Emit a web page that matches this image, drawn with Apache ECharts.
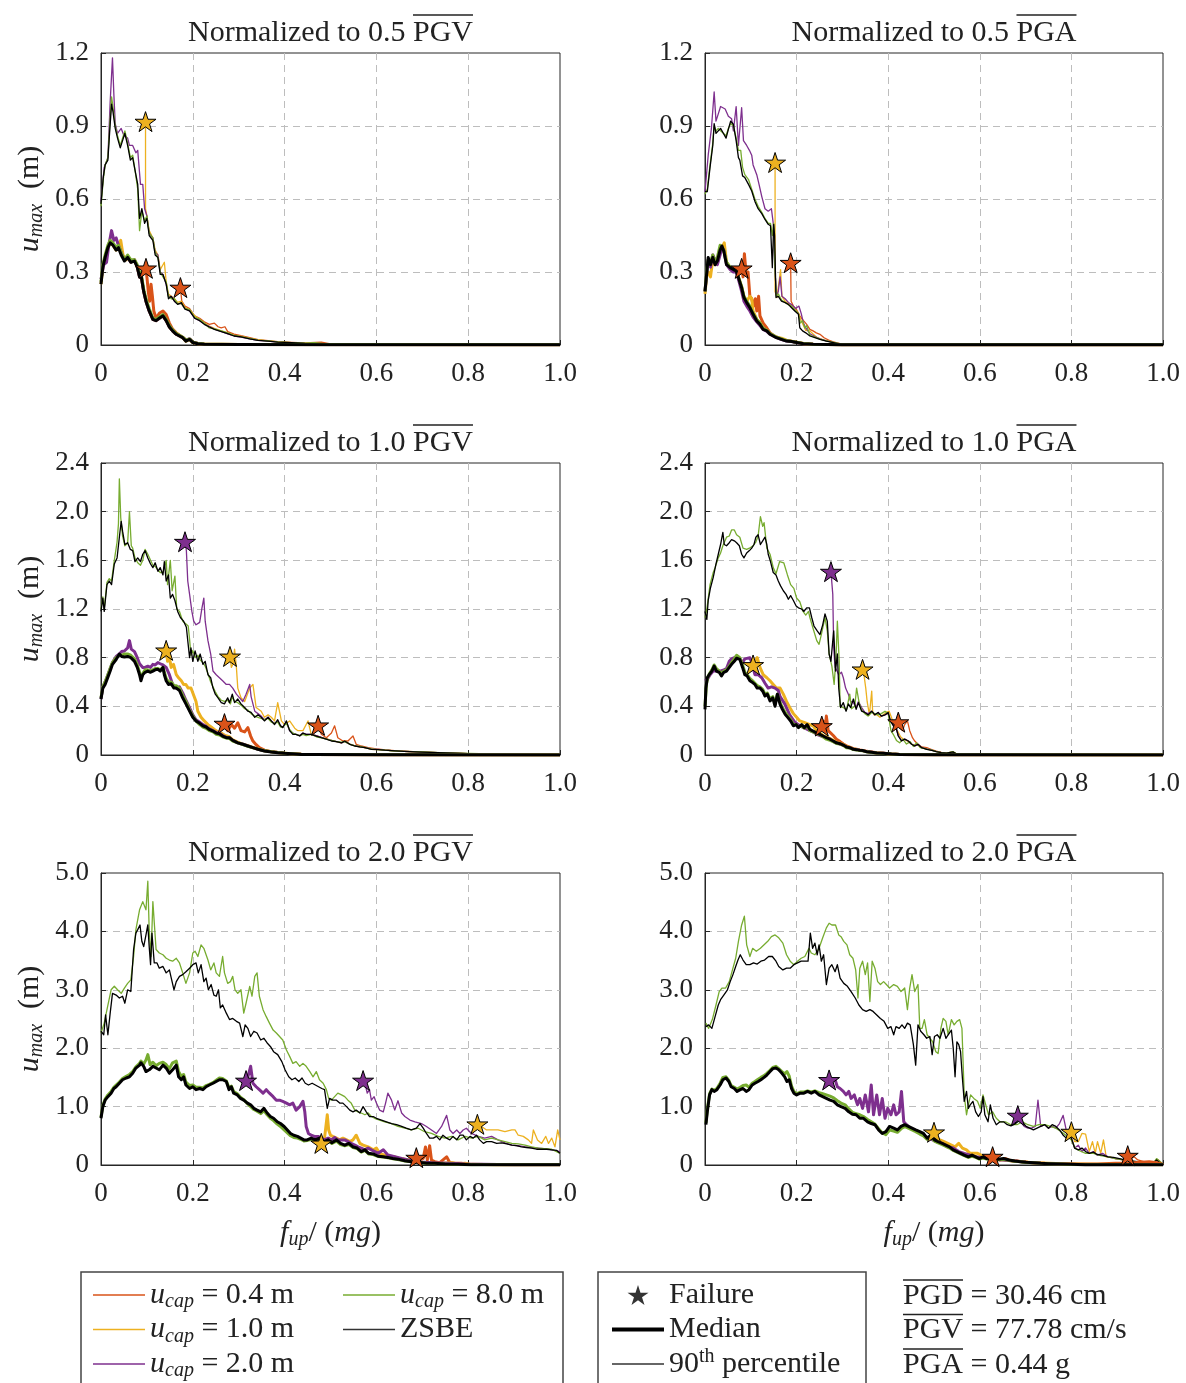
<!DOCTYPE html>
<html><head><meta charset="utf-8">
<script src="https://cdn.jsdelivr.net/npm/echarts@6/dist/echarts.min.js"></script>
<style>html,body{margin:0;padding:0;background:#fff}#c{width:1186px;height:1383px}</style>
</head><body><div id="c"></div>
<script>
// ---------------- DATA: [f_up/(mg), u_max (m)] ----------------
// Panel A: 0.5 PGV
const A_k90=[[0,0.58],[0.005,0.69],[0.009,0.74],[0.015,0.76],[0.019,0.88],[0.023,0.99],[0.026,0.96],[0.031,0.89],[0.036,0.85],[0.042,0.81],[0.047,0.84],[0.052,0.87],[0.058,0.82],[0.064,0.76],[0.069,0.77],[0.074,0.72],[0.08,0.66],[0.084,0.52],[0.089,0.56],[0.095,0.50],[0.10,0.52],[0.105,0.45],[0.113,0.43],[0.118,0.37],[0.124,0.36],[0.129,0.29],[0.135,0.29],[0.142,0.25],[0.147,0.19],[0.153,0.20],[0.16,0.18],[0.167,0.167],[0.175,0.174],[0.183,0.147],[0.193,0.14],[0.204,0.11],[0.215,0.10],[0.225,0.085],[0.236,0.074],[0.247,0.064],[0.262,0.055],[0.276,0.047],[0.29,0.037],[0.305,0.033],[0.324,0.025],[0.342,0.019],[0.364,0.016],[0.385,0.012],[0.415,0.01],[0.444,0.007],[0.49,0.005],[0.6,0.003],[0.8,0.002],[1.0,0.002]];
const A_g90=[[0,0.57],[0.005,0.68],[0.009,0.74],[0.015,0.77],[0.019,0.9],[0.023,1.02],[0.026,0.98],[0.031,0.9],[0.036,0.86],[0.042,0.82],[0.047,0.85],[0.052,0.88],[0.058,0.83],[0.064,0.77],[0.069,0.78],[0.074,0.72],[0.08,0.64],[0.084,0.47],[0.089,0.55],[0.095,0.51],[0.10,0.53],[0.105,0.46],[0.113,0.44],[0.118,0.38],[0.124,0.36],[0.129,0.30],[0.135,0.28],[0.142,0.26],[0.147,0.20],[0.153,0.19],[0.16,0.19],[0.167,0.17],[0.175,0.17],[0.183,0.15],[0.193,0.145],[0.204,0.115],[0.215,0.105],[0.225,0.09],[0.236,0.07],[0.247,0.066],[0.262,0.058],[0.276,0.05],[0.29,0.04],[0.305,0.034],[0.324,0.027],[0.342,0.02],[0.364,0.017],[0.385,0.013],[0.415,0.01],[0.444,0.008],[0.465,0.01],[0.49,0.005],[0.6,0.003],[0.8,0.002],[1.0,0.002]];
const A_p90=[[0,0.59],[0.007,0.73],[0.015,0.77],[0.02,1.0],[0.025,1.18],[0.028,1.03],[0.031,0.91],[0.036,0.87],[0.044,0.89],[0.05,0.86],[0.058,0.85],[0.062,0.82],[0.069,0.82],[0.076,0.79],[0.08,0.80],[0.086,0.66],[0.091,0.66],[0.095,0.56],[0.10,0.53],[0.105,0.46],[0.113,0.44],[0.118,0.38],[0.124,0.37],[0.129,0.30],[0.135,0.29],[0.142,0.25],[0.147,0.20],[0.153,0.20],[0.16,0.18],[0.167,0.17],[0.175,0.17],[0.183,0.15],[0.193,0.14],[0.204,0.11],[0.215,0.10],[0.225,0.087],[0.236,0.076],[0.247,0.065],[0.262,0.056],[0.276,0.046],[0.29,0.037],[0.305,0.032],[0.324,0.025],[0.342,0.019],[0.364,0.016],[0.385,0.012],[0.415,0.009],[0.444,0.007],[0.49,0.005],[0.6,0.003],[1.0,0.002]];
const A_y90=[[0.097,0.918],[0.097,0.56],[0.1,0.53],[0.105,0.47],[0.113,0.44],[0.118,0.39],[0.124,0.37],[0.129,0.31],[0.135,0.33],[0.138,0.34],[0.142,0.26],[0.147,0.21],[0.153,0.20],[0.16,0.19],[0.167,0.175],[0.175,0.18],[0.183,0.155],[0.193,0.145],[0.204,0.12],[0.215,0.105],[0.225,0.09],[0.236,0.078],[0.247,0.068],[0.262,0.058],[0.276,0.05],[0.29,0.04],[0.305,0.035],[0.324,0.027],[0.342,0.021],[0.364,0.017],[0.385,0.013],[0.415,0.01],[0.444,0.008],[0.49,0.005],[0.6,0.003],[1.0,0.002]];
const A_o90=[[0.173,0.236],[0.176,0.18],[0.183,0.16],[0.193,0.15],[0.204,0.12],[0.215,0.11],[0.225,0.095],[0.236,0.085],[0.247,0.09],[0.255,0.075],[0.262,0.07],[0.27,0.075],[0.276,0.055],[0.29,0.045],[0.305,0.038],[0.324,0.03],[0.342,0.022],[0.364,0.018],[0.385,0.014],[0.415,0.011],[0.444,0.009],[0.48,0.012],[0.5,0.005],[0.6,0.003],[1.0,0.002]];
const A_k50=[[0,0.25],[0.004,0.32],[0.009,0.36],[0.015,0.40],[0.02,0.42],[0.026,0.41],[0.033,0.39],[0.038,0.40],[0.044,0.37],[0.051,0.345],[0.058,0.36],[0.065,0.34],[0.073,0.345],[0.079,0.32],[0.084,0.28],[0.087,0.29],[0.093,0.22],[0.098,0.18],[0.105,0.14],[0.113,0.105],[0.12,0.10],[0.127,0.11],[0.135,0.12],[0.142,0.10],[0.149,0.074],[0.156,0.058],[0.164,0.044],[0.171,0.037],[0.178,0.03],[0.185,0.016],[0.193,0.023],[0.2,0.01],[0.211,0.005],[0.225,0.003],[0.3,0.002],[0.5,0.001],[1.0,0.001]];
const A_g50=[[0,0.26],[0.004,0.33],[0.009,0.37],[0.015,0.41],[0.02,0.43],[0.026,0.42],[0.033,0.40],[0.038,0.41],[0.044,0.38],[0.051,0.35],[0.058,0.37],[0.065,0.35],[0.073,0.35],[0.079,0.33],[0.084,0.29],[0.087,0.30],[0.093,0.23],[0.098,0.19],[0.105,0.15],[0.113,0.11],[0.12,0.105],[0.127,0.115],[0.135,0.125],[0.142,0.105],[0.149,0.08],[0.156,0.062],[0.164,0.047],[0.171,0.04],[0.178,0.032],[0.185,0.02],[0.193,0.025],[0.2,0.012],[0.211,0.006],[0.225,0.004],[0.3,0.002],[1.0,0.001]];
const A_p50=[[0,0.27],[0.006,0.33],[0.012,0.34],[0.017,0.41],[0.023,0.47],[0.028,0.43],[0.033,0.44],[0.038,0.41],[0.044,0.38],[0.051,0.35],[0.058,0.36],[0.065,0.34],[0.073,0.35],[0.079,0.32],[0.084,0.28],[0.087,0.29],[0.093,0.22],[0.098,0.18],[0.105,0.14],[0.113,0.105],[0.12,0.10],[0.127,0.11],[0.135,0.12],[0.142,0.10],[0.149,0.074],[0.156,0.058],[0.164,0.044],[0.171,0.037],[0.178,0.03],[0.185,0.02],[0.193,0.026],[0.2,0.012],[0.211,0.006],[0.225,0.003],[0.3,0.002],[1.0,0.001]];
const A_y50=[[0,0.25],[0.004,0.32],[0.009,0.36],[0.015,0.40],[0.02,0.42],[0.026,0.41],[0.033,0.39],[0.038,0.41],[0.043,0.43],[0.048,0.37],[0.055,0.35],[0.06,0.36],[0.065,0.34],[0.073,0.35],[0.079,0.32],[0.084,0.28],[0.087,0.29],[0.093,0.22],[0.098,0.18],[0.105,0.14],[0.113,0.105],[0.12,0.10],[0.127,0.11],[0.135,0.12],[0.142,0.10],[0.149,0.074],[0.156,0.058],[0.164,0.044],[0.171,0.037],[0.178,0.03],[0.185,0.016],[0.193,0.023],[0.2,0.01],[0.211,0.005],[0.225,0.003],[0.3,0.002],[1.0,0.001]];
const A_o50=[[0.098,0.315],[0.1,0.28],[0.103,0.22],[0.106,0.18],[0.109,0.25],[0.112,0.20],[0.115,0.14],[0.12,0.11],[0.127,0.13],[0.135,0.14],[0.142,0.125],[0.149,0.09],[0.156,0.065],[0.164,0.05],[0.171,0.04],[0.178,0.032],[0.185,0.02],[0.193,0.024],[0.2,0.012],[0.211,0.006],[0.225,0.004],[0.3,0.002],[1.0,0.001]];
// Panel B: 0.5 PGA
const B_k90=[[0,0.63],[0.005,0.63],[0.011,0.73],[0.017,0.82],[0.02,0.91],[0.024,0.87],[0.029,0.88],[0.034,0.89],[0.04,0.87],[0.046,0.85],[0.051,0.886],[0.056,0.92],[0.062,0.907],[0.068,0.84],[0.073,0.77],[0.076,0.76],[0.082,0.695],[0.087,0.688],[0.095,0.66],[0.102,0.633],[0.109,0.59],[0.116,0.56],[0.124,0.54],[0.131,0.516],[0.138,0.496],[0.143,0.49],[0.147,0.318],[0.15,0.496],[0.152,0.45],[0.155,0.195],[0.16,0.20],[0.167,0.18],[0.175,0.174],[0.182,0.167],[0.189,0.153],[0.196,0.14],[0.204,0.126],[0.207,0.071],[0.213,0.058],[0.22,0.05],[0.229,0.037],[0.24,0.03],[0.251,0.023],[0.265,0.016],[0.28,0.01],[0.295,0.004],[0.35,0.002],[1.0,0.001]];
const B_g90=[[0,0.62],[0.005,0.64],[0.011,0.74],[0.017,0.83],[0.02,0.9],[0.024,0.88],[0.029,0.89],[0.034,0.88],[0.04,0.87],[0.046,0.86],[0.051,0.89],[0.056,0.91],[0.062,0.9],[0.068,0.85],[0.073,0.8],[0.078,0.8],[0.082,0.73],[0.087,0.7],[0.095,0.68],[0.102,0.64],[0.109,0.6],[0.116,0.57],[0.124,0.545],[0.131,0.52],[0.138,0.5],[0.143,0.5],[0.147,0.45],[0.15,0.5],[0.153,0.3],[0.156,0.2],[0.16,0.21],[0.167,0.185],[0.175,0.175],[0.182,0.165],[0.189,0.16],[0.196,0.145],[0.204,0.13],[0.208,0.09],[0.213,0.1],[0.218,0.07],[0.222,0.08],[0.229,0.04],[0.24,0.032],[0.251,0.024],[0.265,0.017],[0.28,0.011],[0.295,0.005],[0.35,0.002],[1.0,0.001]];
const B_p90=[[0,0.63],[0.007,0.78],[0.014,0.89],[0.02,1.04],[0.024,0.92],[0.029,0.95],[0.034,0.98],[0.044,0.97],[0.051,0.94],[0.058,0.93],[0.062,0.88],[0.068,0.98],[0.073,0.82],[0.08,0.975],[0.084,0.84],[0.091,0.82],[0.097,0.80],[0.102,0.78],[0.105,0.74],[0.113,0.70],[0.118,0.66],[0.124,0.61],[0.131,0.56],[0.138,0.55],[0.145,0.56],[0.149,0.50],[0.153,0.30],[0.156,0.2],[0.16,0.22],[0.164,0.28],[0.168,0.2],[0.175,0.19],[0.182,0.175],[0.19,0.165],[0.198,0.15],[0.205,0.16],[0.21,0.13],[0.215,0.09],[0.22,0.07],[0.23,0.045],[0.24,0.035],[0.251,0.025],[0.265,0.017],[0.28,0.011],[0.295,0.005],[0.35,0.002],[1.0,0.001]];
const B_y90=[[0.153,0.75],[0.153,0.22],[0.157,0.195],[0.161,0.25],[0.165,0.31],[0.168,0.2],[0.175,0.18],[0.182,0.17],[0.189,0.16],[0.196,0.145],[0.204,0.13],[0.21,0.1],[0.215,0.08],[0.22,0.06],[0.229,0.058],[0.236,0.045],[0.245,0.03],[0.26,0.02],[0.28,0.012],[0.295,0.005],[0.35,0.002],[1.0,0.001]];
const B_o90=[[0.187,0.338],[0.188,0.18],[0.193,0.16],[0.2,0.145],[0.207,0.12],[0.215,0.1],[0.222,0.085],[0.229,0.064],[0.236,0.058],[0.243,0.05],[0.251,0.044],[0.26,0.03],[0.27,0.02],[0.28,0.013],[0.295,0.006],[0.35,0.002],[1.0,0.001]];
const B_k50=[[0,0.22],[0.004,0.30],[0.007,0.36],[0.012,0.33],[0.017,0.36],[0.022,0.33],[0.027,0.345],[0.033,0.39],[0.037,0.407],[0.041,0.386],[0.047,0.33],[0.055,0.318],[0.062,0.31],[0.068,0.304],[0.073,0.277],[0.08,0.235],[0.085,0.195],[0.091,0.174],[0.098,0.153],[0.105,0.126],[0.113,0.099],[0.12,0.085],[0.127,0.064],[0.135,0.058],[0.142,0.044],[0.149,0.037],[0.156,0.03],[0.167,0.023],[0.178,0.016],[0.189,0.014],[0.2,0.01],[0.215,0.005],[0.236,0.003],[0.3,0.001],[1.0,0.001]];
const B_g50=[[0,0.22],[0.004,0.31],[0.007,0.35],[0.012,0.34],[0.017,0.37],[0.022,0.34],[0.027,0.36],[0.033,0.41],[0.037,0.41],[0.041,0.39],[0.047,0.34],[0.055,0.32],[0.062,0.315],[0.068,0.31],[0.073,0.28],[0.08,0.24],[0.085,0.2],[0.091,0.18],[0.098,0.16],[0.105,0.13],[0.113,0.105],[0.12,0.09],[0.127,0.07],[0.135,0.06],[0.142,0.047],[0.149,0.04],[0.156,0.032],[0.167,0.025],[0.178,0.018],[0.189,0.015],[0.2,0.011],[0.215,0.006],[0.236,0.003],[0.3,0.001],[1.0,0.001]];
const B_p50=[[0,0.22],[0.004,0.3],[0.007,0.35],[0.012,0.32],[0.017,0.37],[0.022,0.35],[0.027,0.33],[0.033,0.37],[0.037,0.40],[0.041,0.39],[0.047,0.33],[0.055,0.31],[0.062,0.30],[0.068,0.3],[0.073,0.27],[0.08,0.22],[0.085,0.18],[0.091,0.16],[0.098,0.14],[0.105,0.115],[0.113,0.095],[0.12,0.08],[0.127,0.064],[0.135,0.056],[0.142,0.044],[0.149,0.037],[0.156,0.03],[0.167,0.022],[0.178,0.016],[0.189,0.014],[0.2,0.01],[0.215,0.005],[0.236,0.003],[0.3,0.001],[1.0,0.001]];
const B_y50=[[0,0.21],[0.004,0.29],[0.007,0.30],[0.012,0.28],[0.017,0.35],[0.022,0.33],[0.027,0.345],[0.033,0.39],[0.037,0.40],[0.042,0.42],[0.047,0.34],[0.055,0.318],[0.062,0.31],[0.068,0.304],[0.073,0.28],[0.08,0.24],[0.085,0.2],[0.091,0.18],[0.098,0.2],[0.102,0.19],[0.105,0.14],[0.113,0.105],[0.12,0.09],[0.127,0.068],[0.135,0.06],[0.142,0.046],[0.149,0.038],[0.156,0.031],[0.167,0.028],[0.178,0.02],[0.189,0.015],[0.2,0.011],[0.215,0.005],[0.236,0.003],[0.3,0.001],[1.0,0.001]];
const B_o50=[[0.08,0.315],[0.083,0.28],[0.086,0.375],[0.09,0.29],[0.094,0.30],[0.098,0.2],[0.102,0.19],[0.106,0.16],[0.11,0.19],[0.113,0.14],[0.117,0.2],[0.12,0.12],[0.127,0.09],[0.135,0.07],[0.142,0.05],[0.149,0.04],[0.156,0.033],[0.167,0.025],[0.178,0.018],[0.19,0.015],[0.2,0.011],[0.215,0.006],[0.236,0.003],[0.3,0.001],[1.0,0.001]];
// Panel C: 1.0 PGV
const C_k90=[[0,1.18],[0.004,1.29],[0.007,1.18],[0.013,1.40],[0.018,1.43],[0.023,1.40],[0.029,1.57],[0.035,1.62],[0.04,1.79],[0.044,1.92],[0.047,1.84],[0.052,1.73],[0.058,1.745],[0.064,1.69],[0.069,1.68],[0.074,1.59],[0.08,1.62],[0.086,1.59],[0.091,1.65],[0.096,1.68],[0.102,1.62],[0.108,1.57],[0.113,1.54],[0.118,1.58],[0.124,1.51],[0.129,1.54],[0.135,1.48],[0.138,1.59],[0.142,1.43],[0.147,1.48],[0.151,1.29],[0.156,1.32],[0.161,1.27],[0.167,1.18],[0.173,1.13],[0.18,1.10],[0.186,1.05],[0.189,0.94],[0.193,0.80],[0.196,0.88],[0.2,0.77],[0.205,0.855],[0.211,0.77],[0.216,0.83],[0.222,0.745],[0.227,0.77],[0.233,0.66],[0.239,0.635],[0.244,0.55],[0.249,0.50],[0.255,0.47],[0.262,0.43],[0.269,0.42],[0.276,0.47],[0.28,0.43],[0.286,0.50],[0.291,0.43],[0.298,0.46],[0.305,0.42],[0.313,0.39],[0.32,0.36],[0.327,0.35],[0.335,0.31],[0.342,0.33],[0.349,0.31],[0.356,0.28],[0.364,0.31],[0.371,0.28],[0.378,0.25],[0.385,0.29],[0.391,0.24],[0.396,0.225],[0.404,0.28],[0.411,0.20],[0.418,0.17],[0.425,0.17],[0.433,0.156],[0.44,0.18],[0.447,0.17],[0.458,0.17],[0.469,0.156],[0.48,0.142],[0.491,0.13],[0.502,0.115],[0.513,0.11],[0.524,0.10],[0.531,0.115],[0.542,0.088],[0.553,0.074],[0.564,0.066],[0.575,0.06],[0.589,0.047],[0.604,0.045],[0.618,0.04],[0.633,0.036],[0.66,0.03],[0.7,0.024],[0.75,0.017],[0.8,0.012],[0.85,0.008],[0.9,0.006],[1.0,0.004]];
const C_g90=[[0,1.2],[0.004,1.3],[0.007,1.2],[0.013,1.42],[0.018,1.45],[0.023,1.43],[0.029,1.6],[0.035,1.75],[0.038,1.9],[0.04,2.27],[0.043,1.95],[0.047,1.8],[0.052,1.72],[0.058,1.74],[0.062,2.0],[0.066,1.72],[0.069,1.7],[0.074,1.62],[0.08,1.58],[0.086,1.56],[0.091,1.6],[0.096,1.69],[0.102,1.65],[0.108,1.6],[0.113,1.56],[0.118,1.55],[0.124,1.52],[0.129,1.5],[0.135,1.5],[0.142,1.6],[0.145,1.4],[0.151,1.6],[0.155,1.35],[0.161,1.47],[0.165,1.2],[0.171,1.18],[0.178,1.1],[0.184,1.08],[0.19,1.06],[0.193,0.95],[0.196,0.82],[0.2,0.86],[0.205,0.8],[0.211,0.82],[0.216,0.78],[0.222,0.76],[0.227,0.73],[0.233,0.67],[0.239,0.6],[0.244,0.56],[0.249,0.52],[0.255,0.48],[0.262,0.45],[0.269,0.44],[0.276,0.45],[0.282,0.42],[0.286,0.48],[0.291,0.44],[0.298,0.43],[0.305,0.41],[0.313,0.38],[0.32,0.37],[0.327,0.34],[0.335,0.32],[0.342,0.31],[0.349,0.3],[0.356,0.29],[0.364,0.3],[0.371,0.27],[0.378,0.26],[0.385,0.27],[0.391,0.23],[0.396,0.23],[0.404,0.26],[0.411,0.21],[0.418,0.18],[0.425,0.17],[0.433,0.16],[0.44,0.17],[0.447,0.16],[0.458,0.17],[0.469,0.15],[0.48,0.14],[0.491,0.13],[0.502,0.12],[0.513,0.11],[0.524,0.105],[0.531,0.11],[0.542,0.09],[0.553,0.075],[0.564,0.07],[0.575,0.06],[0.589,0.05],[0.604,0.045],[0.618,0.04],[0.633,0.035],[0.66,0.03],[0.7,0.025],[0.75,0.018],[0.8,0.013],[0.85,0.01],[0.9,0.006],[1.0,0.004]];
const C_p90=[[0.183,1.753],[0.186,1.68],[0.189,1.43],[0.193,1.32],[0.198,1.18],[0.202,1.10],[0.207,1.07],[0.215,1.09],[0.22,1.21],[0.224,1.29],[0.227,1.10],[0.233,0.94],[0.239,0.83],[0.244,0.69],[0.251,0.66],[0.258,0.635],[0.265,0.61],[0.273,0.58],[0.28,0.58],[0.287,0.55],[0.295,0.50],[0.302,0.47],[0.309,0.44],[0.316,0.5],[0.324,0.58],[0.327,0.48],[0.335,0.36],[0.342,0.34],[0.349,0.32],[0.356,0.29],[0.364,0.31],[0.371,0.28],[0.378,0.26],[0.385,0.28],[0.391,0.24],[0.396,0.23],[0.404,0.27],[0.411,0.2],[0.418,0.18],[0.425,0.17],[0.433,0.16],[0.44,0.18],[0.447,0.17],[0.458,0.17],[0.469,0.16],[0.48,0.145],[0.491,0.13],[0.502,0.12],[0.513,0.11],[0.524,0.1],[0.531,0.11],[0.542,0.09],[0.553,0.075],[0.564,0.066],[0.575,0.06],[0.589,0.05],[0.604,0.046],[0.618,0.04],[0.633,0.036],[0.66,0.03],[0.7,0.023],[0.75,0.018],[0.8,0.012],[0.85,0.01],[0.9,0.006],[1.0,0.004]];
const C_y90=[[0.281,0.81],[0.284,0.72],[0.287,0.745],[0.291,0.87],[0.295,0.72],[0.298,0.55],[0.305,0.47],[0.313,0.44],[0.324,0.55],[0.331,0.58],[0.338,0.39],[0.349,0.36],[0.356,0.31],[0.364,0.33],[0.371,0.31],[0.378,0.28],[0.385,0.43],[0.393,0.28],[0.4,0.25],[0.411,0.28],[0.422,0.22],[0.429,0.2],[0.44,0.2],[0.451,0.28],[0.458,0.17],[0.469,0.16],[0.48,0.145],[0.491,0.135],[0.502,0.12],[0.513,0.11],[0.524,0.1],[0.531,0.115],[0.542,0.09],[0.553,0.075],[0.564,0.066],[0.575,0.06],[0.589,0.047],[0.604,0.045],[0.618,0.04],[0.633,0.036],[0.66,0.03],[0.7,0.024],[0.75,0.017],[0.8,0.012],[0.85,0.01],[0.9,0.006],[1.0,0.004]];
const C_o90=[[0.473,0.244],[0.48,0.17],[0.491,0.142],[0.502,0.18],[0.509,0.24],[0.516,0.142],[0.527,0.115],[0.538,0.115],[0.549,0.156],[0.556,0.088],[0.567,0.074],[0.582,0.06],[0.6,0.05],[0.62,0.042],[0.64,0.036],[0.66,0.031],[0.7,0.024],[0.75,0.018],[0.8,0.012],[0.85,0.01],[0.9,0.006],[1.0,0.004]];
const C_k50=[[0,0.46],[0.004,0.55],[0.009,0.58],[0.015,0.64],[0.02,0.69],[0.025,0.745],[0.033,0.785],[0.04,0.83],[0.045,0.81],[0.051,0.805],[0.058,0.81],[0.065,0.80],[0.073,0.77],[0.079,0.72],[0.084,0.66],[0.087,0.61],[0.091,0.66],[0.096,0.68],[0.102,0.69],[0.108,0.68],[0.113,0.69],[0.118,0.70],[0.124,0.705],[0.129,0.69],[0.135,0.72],[0.138,0.66],[0.142,0.61],[0.147,0.58],[0.153,0.585],[0.159,0.55],[0.164,0.55],[0.171,0.53],[0.178,0.47],[0.185,0.42],[0.193,0.36],[0.2,0.31],[0.207,0.28],[0.215,0.26],[0.222,0.24],[0.229,0.23],[0.236,0.21],[0.244,0.197],[0.251,0.18],[0.258,0.175],[0.265,0.156],[0.273,0.142],[0.28,0.142],[0.287,0.12],[0.298,0.10],[0.309,0.088],[0.32,0.074],[0.331,0.06],[0.342,0.047],[0.356,0.033],[0.371,0.025],[0.385,0.019],[0.4,0.014],[0.415,0.011],[0.436,0.005],[0.465,0.004],[0.6,0.002],[1.0,0.001]];
const C_g50=[[0,0.47],[0.004,0.56],[0.009,0.6],[0.015,0.66],[0.02,0.71],[0.025,0.76],[0.033,0.8],[0.04,0.82],[0.045,0.82],[0.051,0.83],[0.058,0.83],[0.065,0.82],[0.073,0.79],[0.079,0.74],[0.084,0.68],[0.087,0.63],[0.091,0.67],[0.096,0.7],[0.102,0.7],[0.108,0.69],[0.113,0.7],[0.118,0.71],[0.124,0.71],[0.129,0.7],[0.135,0.72],[0.138,0.68],[0.142,0.63],[0.147,0.6],[0.153,0.6],[0.159,0.57],[0.164,0.57],[0.171,0.55],[0.178,0.49],[0.185,0.44],[0.193,0.37],[0.2,0.32],[0.207,0.28],[0.215,0.25],[0.222,0.23],[0.229,0.22],[0.236,0.2],[0.244,0.19],[0.251,0.17],[0.258,0.165],[0.265,0.15],[0.273,0.14],[0.28,0.135],[0.287,0.115],[0.298,0.1],[0.309,0.085],[0.32,0.072],[0.331,0.06],[0.342,0.048],[0.356,0.035],[0.371,0.026],[0.385,0.02],[0.4,0.015],[0.415,0.011],[0.436,0.006],[0.465,0.004],[0.6,0.002],[1.0,0.001]];
const C_p50=[[0,0.46],[0.004,0.56],[0.009,0.6],[0.015,0.66],[0.02,0.71],[0.025,0.76],[0.033,0.81],[0.04,0.83],[0.045,0.85],[0.051,0.855],[0.058,0.88],[0.062,0.94],[0.066,0.87],[0.073,0.85],[0.079,0.8],[0.084,0.75],[0.091,0.72],[0.096,0.72],[0.102,0.73],[0.108,0.72],[0.113,0.745],[0.118,0.74],[0.124,0.76],[0.129,0.75],[0.135,0.74],[0.142,0.72],[0.149,0.66],[0.156,0.58],[0.164,0.55],[0.171,0.56],[0.178,0.51],[0.185,0.45],[0.193,0.39],[0.2,0.33],[0.207,0.29],[0.215,0.27],[0.222,0.25],[0.229,0.235],[0.236,0.215],[0.244,0.2],[0.251,0.185],[0.258,0.18],[0.265,0.16],[0.273,0.145],[0.28,0.14],[0.287,0.12],[0.298,0.1],[0.309,0.088],[0.32,0.074],[0.331,0.06],[0.342,0.047],[0.356,0.034],[0.371,0.026],[0.385,0.02],[0.4,0.014],[0.415,0.011],[0.436,0.006],[0.465,0.004],[0.6,0.002],[1.0,0.001]];
const C_y50=[[0.142,0.86],[0.145,0.77],[0.149,0.80],[0.153,0.72],[0.158,0.745],[0.164,0.66],[0.169,0.635],[0.175,0.61],[0.18,0.58],[0.185,0.58],[0.19,0.55],[0.196,0.55],[0.2,0.56],[0.207,0.44],[0.211,0.36],[0.218,0.31],[0.225,0.28],[0.233,0.25],[0.24,0.23],[0.247,0.21],[0.255,0.19],[0.262,0.18],[0.27,0.16],[0.28,0.15],[0.287,0.125],[0.298,0.105],[0.309,0.09],[0.32,0.076],[0.331,0.062],[0.342,0.05],[0.356,0.035],[0.371,0.027],[0.385,0.02],[0.4,0.015],[0.415,0.011],[0.436,0.006],[0.465,0.004],[0.6,0.002],[1.0,0.001]];
const C_o50=[[0.269,0.258],[0.276,0.2],[0.284,0.25],[0.291,0.22],[0.298,0.265],[0.305,0.2],[0.313,0.19],[0.32,0.225],[0.326,0.156],[0.331,0.115],[0.338,0.085],[0.345,0.06],[0.356,0.04],[0.371,0.028],[0.385,0.021],[0.4,0.015],[0.415,0.012],[0.436,0.006],[0.465,0.004],[0.6,0.002],[1.0,0.001]];
// Panel D: 1.0 PGA
const D_k90=[[0,1.18],[0.004,1.115],[0.007,1.27],[0.012,1.375],[0.018,1.46],[0.024,1.57],[0.029,1.65],[0.034,1.73],[0.039,1.83],[0.042,1.73],[0.047,1.72],[0.053,1.745],[0.058,1.77],[0.064,1.76],[0.069,1.745],[0.075,1.72],[0.08,1.65],[0.085,1.62],[0.091,1.66],[0.097,1.68],[0.102,1.70],[0.107,1.73],[0.111,1.79],[0.116,1.81],[0.121,1.73],[0.126,1.76],[0.131,1.79],[0.135,1.73],[0.138,1.65],[0.143,1.59],[0.149,1.50],[0.155,1.48],[0.16,1.43],[0.165,1.39],[0.171,1.35],[0.177,1.32],[0.182,1.28],[0.187,1.31],[0.193,1.27],[0.199,1.225],[0.204,1.21],[0.211,1.20],[0.216,1.18],[0.222,1.21],[0.228,1.21],[0.233,1.13],[0.238,1.06],[0.245,1.02],[0.251,0.99],[0.257,1.07],[0.262,1.16],[0.267,1.10],[0.271,0.83],[0.275,0.77],[0.279,0.94],[0.281,1.02],[0.285,0.69],[0.289,0.83],[0.292,0.55],[0.296,0.39],[0.302,0.43],[0.308,0.36],[0.313,0.42],[0.318,0.39],[0.324,0.46],[0.33,0.375],[0.335,0.43],[0.342,0.36],[0.349,0.35],[0.356,0.33],[0.364,0.36],[0.371,0.33],[0.378,0.35],[0.385,0.32],[0.393,0.33],[0.4,0.35],[0.405,0.28],[0.411,0.24],[0.417,0.225],[0.422,0.156],[0.429,0.115],[0.436,0.13],[0.444,0.115],[0.451,0.088],[0.458,0.074],[0.465,0.088],[0.473,0.06],[0.484,0.047],[0.495,0.038],[0.505,0.027],[0.516,0.019],[0.527,0.016],[0.542,0.025],[0.549,0.008],[0.571,0.005],[0.65,0.003],[0.8,0.002],[1.0,0.001]];
const D_g90=[[0,1.13],[0.004,1.2],[0.011,1.40],[0.018,1.5],[0.022,1.54],[0.029,1.62],[0.034,1.66],[0.039,1.72],[0.047,1.79],[0.053,1.8],[0.058,1.85],[0.064,1.85],[0.069,1.81],[0.076,1.79],[0.083,1.7],[0.091,1.69],[0.097,1.7],[0.105,1.72],[0.111,1.75],[0.116,1.8],[0.121,1.96],[0.126,1.88],[0.129,1.91],[0.135,1.70],[0.142,1.65],[0.149,1.54],[0.155,1.49],[0.163,1.59],[0.172,1.58],[0.18,1.48],[0.187,1.40],[0.194,1.37],[0.2,1.29],[0.207,1.26],[0.214,1.18],[0.22,1.15],[0.226,1.18],[0.229,1.13],[0.236,1.04],[0.244,0.94],[0.249,0.91],[0.254,0.99],[0.262,1.13],[0.267,1.02],[0.271,0.83],[0.277,0.73],[0.282,0.58],[0.286,0.8],[0.289,1.1],[0.293,0.77],[0.295,0.4],[0.302,0.39],[0.309,0.37],[0.316,0.5],[0.32,0.38],[0.327,0.4],[0.331,0.55],[0.337,0.42],[0.342,0.37],[0.349,0.34],[0.356,0.32],[0.364,0.35],[0.371,0.34],[0.378,0.33],[0.385,0.34],[0.393,0.36],[0.4,0.34],[0.406,0.2],[0.411,0.17],[0.418,0.12],[0.425,0.1],[0.432,0.13],[0.44,0.09],[0.448,0.11],[0.455,0.07],[0.462,0.1],[0.47,0.06],[0.484,0.048],[0.495,0.04],[0.505,0.028],[0.516,0.02],[0.527,0.016],[0.542,0.027],[0.549,0.01],[0.571,0.005],[0.65,0.003],[0.8,0.002],[1.0,0.001]];
const D_p90=[[0.275,1.507],[0.279,1.32],[0.281,0.88],[0.284,0.72],[0.287,0.7],[0.292,0.66],[0.298,0.68],[0.302,0.635],[0.307,0.55],[0.313,0.50],[0.318,0.44],[0.324,0.43],[0.33,0.39],[0.335,0.44],[0.342,0.39],[0.349,0.35],[0.356,0.34],[0.364,0.36],[0.371,0.33],[0.378,0.35],[0.385,0.32],[0.393,0.33],[0.4,0.34],[0.405,0.28],[0.411,0.25],[0.417,0.23],[0.422,0.16],[0.429,0.12],[0.436,0.13],[0.444,0.115],[0.451,0.09],[0.458,0.075],[0.465,0.088],[0.473,0.06],[0.484,0.05],[0.495,0.04],[0.505,0.028],[0.516,0.02],[0.527,0.016],[0.542,0.022],[0.549,0.009],[0.571,0.005],[0.65,0.003],[0.8,0.002],[1.0,0.001]];
const D_y90=[[0.344,0.704],[0.347,0.66],[0.351,0.55],[0.354,0.44],[0.359,0.33],[0.364,0.525],[0.366,0.36],[0.369,0.33],[0.375,0.33],[0.382,0.31],[0.389,0.33],[0.396,0.35],[0.402,0.36],[0.407,0.31],[0.414,0.23],[0.42,0.2],[0.427,0.15],[0.433,0.13],[0.44,0.12],[0.447,0.1],[0.455,0.08],[0.462,0.09],[0.47,0.065],[0.484,0.05],[0.495,0.04],[0.505,0.03],[0.516,0.02],[0.527,0.017],[0.542,0.024],[0.549,0.009],[0.571,0.005],[0.65,0.003],[1.0,0.001]];
const D_o90=[[0.422,0.27],[0.425,0.225],[0.431,0.2],[0.436,0.25],[0.442,0.28],[0.447,0.2],[0.453,0.142],[0.458,0.115],[0.465,0.088],[0.473,0.066],[0.484,0.06],[0.495,0.045],[0.505,0.032],[0.516,0.022],[0.527,0.018],[0.542,0.024],[0.549,0.01],[0.571,0.006],[0.65,0.003],[1.0,0.001]];
const D_k50=[[0,0.375],[0.002,0.55],[0.005,0.635],[0.009,0.66],[0.015,0.69],[0.02,0.73],[0.025,0.69],[0.031,0.68],[0.036,0.65],[0.041,0.68],[0.047,0.69],[0.053,0.72],[0.058,0.745],[0.064,0.77],[0.069,0.795],[0.073,0.80],[0.076,0.786],[0.082,0.72],[0.087,0.66],[0.092,0.65],[0.098,0.61],[0.104,0.595],[0.109,0.58],[0.114,0.55],[0.12,0.55],[0.126,0.525],[0.131,0.485],[0.136,0.50],[0.142,0.444],[0.148,0.47],[0.153,0.40],[0.158,0.50],[0.164,0.416],[0.169,0.375],[0.175,0.334],[0.181,0.307],[0.187,0.28],[0.193,0.24],[0.199,0.25],[0.204,0.225],[0.211,0.25],[0.217,0.225],[0.223,0.25],[0.229,0.21],[0.236,0.197],[0.244,0.18],[0.251,0.17],[0.258,0.156],[0.265,0.142],[0.273,0.13],[0.28,0.115],[0.287,0.10],[0.295,0.093],[0.302,0.082],[0.309,0.066],[0.316,0.06],[0.324,0.047],[0.331,0.044],[0.338,0.038],[0.345,0.036],[0.353,0.027],[0.364,0.022],[0.375,0.016],[0.389,0.014],[0.407,0.008],[0.425,0.005],[0.5,0.003],[1.0,0.001]];
const D_g50=[[0,0.4],[0.003,0.58],[0.006,0.64],[0.01,0.67],[0.015,0.7],[0.02,0.74],[0.025,0.71],[0.031,0.69],[0.036,0.67],[0.041,0.69],[0.047,0.7],[0.053,0.73],[0.058,0.76],[0.064,0.79],[0.069,0.82],[0.073,0.83],[0.076,0.8],[0.082,0.74],[0.087,0.68],[0.092,0.66],[0.098,0.63],[0.104,0.61],[0.109,0.59],[0.114,0.57],[0.12,0.56],[0.126,0.54],[0.131,0.5],[0.136,0.51],[0.142,0.46],[0.148,0.48],[0.153,0.42],[0.158,0.5],[0.164,0.43],[0.169,0.39],[0.175,0.35],[0.181,0.32],[0.187,0.29],[0.193,0.25],[0.199,0.25],[0.204,0.23],[0.211,0.24],[0.217,0.22],[0.223,0.24],[0.229,0.2],[0.236,0.19],[0.244,0.175],[0.251,0.165],[0.258,0.15],[0.265,0.13],[0.273,0.12],[0.28,0.11],[0.287,0.095],[0.295,0.09],[0.302,0.08],[0.309,0.06],[0.316,0.058],[0.324,0.045],[0.331,0.042],[0.338,0.037],[0.345,0.034],[0.353,0.026],[0.364,0.021],[0.375,0.016],[0.389,0.013],[0.407,0.008],[0.425,0.005],[0.5,0.003],[1.0,0.001]];
const D_p50=[[0,0.61],[0.005,0.62],[0.011,0.66],[0.018,0.69],[0.025,0.69],[0.033,0.69],[0.041,0.7],[0.047,0.71],[0.053,0.77],[0.058,0.79],[0.064,0.8],[0.069,0.81],[0.076,0.79],[0.082,0.76],[0.087,0.79],[0.091,0.79],[0.098,0.8],[0.102,0.76],[0.105,0.72],[0.109,0.66],[0.116,0.66],[0.124,0.635],[0.131,0.59],[0.138,0.55],[0.145,0.56],[0.153,0.55],[0.16,0.53],[0.164,0.48],[0.174,0.42],[0.185,0.33],[0.196,0.27],[0.207,0.24],[0.218,0.22],[0.229,0.2],[0.236,0.19],[0.244,0.17],[0.251,0.16],[0.258,0.15],[0.265,0.14],[0.273,0.13],[0.28,0.11],[0.287,0.1],[0.295,0.09],[0.302,0.08],[0.309,0.065],[0.316,0.06],[0.324,0.048],[0.331,0.046],[0.338,0.04],[0.345,0.035],[0.353,0.028],[0.364,0.022],[0.375,0.016],[0.389,0.014],[0.407,0.008],[0.425,0.005],[0.5,0.003],[1.0,0.001]];
const D_y50=[[0.105,0.74],[0.109,0.77],[0.114,0.80],[0.12,0.72],[0.127,0.66],[0.135,0.635],[0.142,0.61],[0.149,0.58],[0.156,0.55],[0.164,0.55],[0.171,0.50],[0.178,0.44],[0.185,0.39],[0.193,0.34],[0.2,0.31],[0.207,0.28],[0.215,0.27],[0.222,0.26],[0.229,0.25],[0.236,0.24],[0.244,0.2],[0.251,0.18],[0.258,0.16],[0.265,0.15],[0.273,0.135],[0.28,0.12],[0.287,0.105],[0.295,0.095],[0.302,0.085],[0.309,0.07],[0.316,0.062],[0.324,0.05],[0.331,0.046],[0.338,0.04],[0.345,0.036],[0.353,0.028],[0.364,0.022],[0.375,0.017],[0.389,0.014],[0.407,0.008],[0.425,0.005],[0.5,0.003],[1.0,0.001]];
const D_o50=[[0.255,0.238],[0.258,0.28],[0.262,0.2],[0.265,0.32],[0.269,0.2],[0.273,0.19],[0.28,0.16],[0.287,0.13],[0.295,0.11],[0.302,0.09],[0.309,0.075],[0.316,0.065],[0.324,0.052],[0.331,0.048],[0.338,0.042],[0.345,0.038],[0.353,0.03],[0.364,0.024],[0.375,0.018],[0.389,0.014],[0.407,0.008],[0.425,0.005],[0.5,0.003],[1.0,0.001]];
// Panel E: 2.0 PGV
const E_k90=[[0,2.29],[0.006,2.23],[0.01,2.57],[0.015,2.23],[0.02,2.60],[0.025,2.94],[0.033,2.91],[0.04,2.86],[0.047,2.89],[0.052,2.77],[0.058,3.0],[0.065,2.97],[0.071,3.69],[0.076,3.97],[0.08,4.03],[0.085,4.11],[0.089,3.83],[0.093,3.74],[0.098,3.94],[0.102,4.11],[0.105,3.74],[0.108,3.43],[0.111,3.97],[0.116,3.46],[0.122,3.46],[0.127,3.37],[0.135,3.40],[0.142,3.29],[0.149,3.34],[0.154,3.17],[0.159,3.0],[0.164,3.14],[0.171,3.23],[0.178,3.26],[0.185,3.31],[0.193,3.37],[0.2,3.43],[0.207,3.46],[0.212,3.29],[0.218,3.43],[0.224,3.14],[0.229,3.2],[0.234,3.0],[0.24,3.09],[0.246,2.91],[0.251,2.89],[0.256,3.0],[0.26,2.69],[0.265,2.74],[0.273,2.6],[0.28,2.49],[0.287,2.51],[0.295,2.46],[0.302,2.43],[0.309,2.2],[0.314,2.4],[0.32,2.34],[0.326,2.2],[0.333,2.29],[0.34,2.26],[0.348,2.14],[0.355,2.17],[0.362,2.09],[0.369,2.03],[0.376,1.94],[0.385,1.89],[0.394,1.77],[0.401,1.63],[0.409,1.51],[0.416,1.46],[0.423,1.49],[0.431,1.43],[0.438,1.49],[0.445,1.4],[0.452,1.37],[0.46,1.4],[0.467,1.37],[0.474,1.34],[0.481,1.31],[0.487,1.29],[0.493,0.97],[0.498,1.14],[0.505,1.11],[0.513,1.11],[0.52,1.06],[0.527,1.06],[0.535,1.0],[0.542,0.94],[0.549,0.91],[0.556,0.94],[0.564,0.89],[0.571,1.0],[0.578,0.91],[0.585,0.83],[0.593,0.83],[0.6,0.8],[0.611,0.77],[0.622,0.74],[0.633,0.71],[0.644,0.69],[0.655,0.66],[0.665,0.63],[0.676,0.6],[0.687,0.63],[0.695,0.71],[0.702,0.63],[0.709,0.54],[0.716,0.46],[0.724,0.46],[0.731,0.49],[0.738,0.43],[0.745,0.51],[0.753,0.46],[0.76,0.43],[0.767,0.49],[0.775,0.43],[0.782,0.51],[0.789,0.51],[0.796,0.43],[0.804,0.49],[0.811,0.46],[0.818,0.51],[0.825,0.43],[0.833,0.37],[0.84,0.4],[0.851,0.4],[0.862,0.37],[0.873,0.38],[0.884,0.36],[0.895,0.34],[0.905,0.33],[0.916,0.31],[0.927,0.3],[0.938,0.29],[0.949,0.27],[0.96,0.27],[0.971,0.27],[0.982,0.26],[0.993,0.25],[1.0,0.2]];
const E_g90=[[0,2.26],[0.007,2.43],[0.013,2.66],[0.022,3.0],[0.029,3.06],[0.036,3.0],[0.044,2.94],[0.051,3.03],[0.058,3.11],[0.065,3.17],[0.071,3.57],[0.076,4.03],[0.084,4.37],[0.091,4.51],[0.098,4.37],[0.102,4.86],[0.105,4.03],[0.109,3.57],[0.113,4.51],[0.12,3.69],[0.127,3.63],[0.135,3.6],[0.142,3.54],[0.149,3.51],[0.156,3.49],[0.164,3.54],[0.171,3.46],[0.178,3.29],[0.185,3.11],[0.193,3.29],[0.2,3.63],[0.205,3.66],[0.211,3.57],[0.218,3.77],[0.224,3.71],[0.227,3.74],[0.233,3.51],[0.239,3.34],[0.246,3.46],[0.251,3.29],[0.258,3.23],[0.265,3.57],[0.269,3.29],[0.276,3.11],[0.282,3.14],[0.287,3.23],[0.292,3.0],[0.298,2.94],[0.305,3.0],[0.311,2.6],[0.316,2.77],[0.324,3.06],[0.329,2.89],[0.335,3.23],[0.34,3.29],[0.345,2.89],[0.353,2.66],[0.36,2.54],[0.367,2.43],[0.375,2.31],[0.382,2.26],[0.389,2.2],[0.396,2.14],[0.404,1.97],[0.411,1.86],[0.418,1.74],[0.425,1.77],[0.433,1.69],[0.44,1.74],[0.447,1.69],[0.455,1.6],[0.462,1.51],[0.469,1.6],[0.476,1.46],[0.484,1.4],[0.491,1.29],[0.496,1.14],[0.502,1.11],[0.509,1.17],[0.516,1.23],[0.524,1.2],[0.531,1.17],[0.538,1.11],[0.545,1.06],[0.553,0.94],[0.56,0.91],[0.567,0.89],[0.575,0.86],[0.582,0.89],[0.589,0.83],[0.596,0.8],[0.607,0.77],[0.618,0.74],[0.633,0.71],[0.647,0.66],[0.662,0.63],[0.676,0.6],[0.691,0.63],[0.705,0.57],[0.72,0.54],[0.735,0.49],[0.749,0.46],[0.764,0.49],[0.778,0.43],[0.793,0.49],[0.807,0.46],[0.822,0.49],[0.836,0.43],[0.851,0.46],[0.865,0.43],[0.88,0.4],[0.895,0.37],[0.909,0.36],[0.924,0.34],[0.938,0.31],[0.953,0.29],[0.967,0.28],[0.982,0.27],[1.0,0.2]];
const E_p90=[[0.571,1.446],[0.575,1.4],[0.58,1.23],[0.585,1.29],[0.589,1.11],[0.595,1.17],[0.6,1.06],[0.607,0.94],[0.615,0.91],[0.62,1.06],[0.625,1.23],[0.629,1.26],[0.633,1.11],[0.64,0.94],[0.647,1.1],[0.655,0.89],[0.662,0.83],[0.673,0.77],[0.684,0.74],[0.698,0.71],[0.709,0.66],[0.72,0.6],[0.731,0.54],[0.742,0.66],[0.753,0.85],[0.76,0.6],[0.767,0.54],[0.775,0.6],[0.782,0.54],[0.789,0.6],[0.796,0.63],[0.807,0.54],[0.822,0.49],[0.836,0.46],[0.851,0.49],[0.865,0.43],[0.88,0.38],[0.895,0.34],[0.909,0.33],[0.924,0.31],[0.938,0.3],[0.953,0.29],[0.975,0.27],[1.0,0.23]];
const E_y90=[[0.82,0.697],[0.829,0.66],[0.84,0.6],[0.851,0.6],[0.865,0.6],[0.88,0.57],[0.895,0.6],[0.902,0.6],[0.909,0.51],[0.92,0.49],[0.931,0.43],[0.938,0.37],[0.942,0.6],[0.951,0.43],[0.96,0.37],[0.969,0.49],[0.975,0.37],[0.982,0.46],[0.989,0.31],[0.995,0.6],[1.0,0.43]];
const E_o90=null; // no non-failing 90th-percentile run for u_cap = 0.4 m
const E_k50=[[0,0.8],[0.004,1.0],[0.009,1.11],[0.015,1.17],[0.022,1.23],[0.028,1.31],[0.033,1.34],[0.04,1.4],[0.047,1.46],[0.055,1.49],[0.062,1.51],[0.069,1.57],[0.076,1.66],[0.084,1.71],[0.087,1.75],[0.093,1.69],[0.098,1.6],[0.105,1.63],[0.113,1.69],[0.12,1.66],[0.127,1.63],[0.135,1.71],[0.142,1.66],[0.149,1.57],[0.156,1.63],[0.164,1.71],[0.169,1.51],[0.175,1.46],[0.18,1.51],[0.185,1.37],[0.193,1.31],[0.2,1.34],[0.207,1.29],[0.215,1.31],[0.222,1.29],[0.229,1.34],[0.236,1.37],[0.244,1.4],[0.251,1.43],[0.258,1.46],[0.265,1.46],[0.273,1.43],[0.279,1.29],[0.284,1.34],[0.289,1.23],[0.297,1.2],[0.304,1.14],[0.311,1.11],[0.319,1.06],[0.326,1.03],[0.333,0.97],[0.34,0.94],[0.348,0.91],[0.355,0.97],[0.362,0.89],[0.369,0.83],[0.376,0.8],[0.384,0.74],[0.391,0.71],[0.399,0.66],[0.406,0.6],[0.413,0.54],[0.42,0.51],[0.428,0.49],[0.435,0.46],[0.442,0.43],[0.449,0.43],[0.458,0.46],[0.467,0.43],[0.476,0.46],[0.486,0.4],[0.495,0.43],[0.503,0.38],[0.513,0.43],[0.522,0.37],[0.531,0.34],[0.54,0.37],[0.549,0.31],[0.558,0.29],[0.567,0.23],[0.575,0.26],[0.583,0.2],[0.593,0.19],[0.604,0.15],[0.615,0.14],[0.625,0.13],[0.636,0.11],[0.647,0.1],[0.662,0.074],[0.676,0.057],[0.691,0.046],[0.709,0.029],[0.727,0.029],[0.749,0.017],[0.778,0.011],[0.807,0.006],[0.865,0.005],[1.0,0.003]];
const E_g50=[[0,0.82],[0.004,1.02],[0.009,1.13],[0.015,1.2],[0.022,1.26],[0.028,1.33],[0.033,1.37],[0.04,1.42],[0.047,1.48],[0.055,1.52],[0.062,1.55],[0.069,1.6],[0.076,1.68],[0.084,1.74],[0.087,1.78],[0.093,1.73],[0.098,1.8],[0.102,1.89],[0.107,1.72],[0.113,1.76],[0.12,1.7],[0.127,1.74],[0.135,1.76],[0.142,1.72],[0.149,1.65],[0.156,1.75],[0.164,1.78],[0.169,1.6],[0.175,1.52],[0.18,1.55],[0.185,1.42],[0.193,1.36],[0.2,1.37],[0.207,1.33],[0.215,1.33],[0.222,1.32],[0.229,1.36],[0.236,1.38],[0.244,1.41],[0.251,1.45],[0.258,1.49],[0.265,1.48],[0.273,1.44],[0.279,1.32],[0.284,1.35],[0.289,1.26],[0.297,1.22],[0.304,1.16],[0.311,1.12],[0.319,1.05],[0.326,1.0],[0.333,0.95],[0.34,0.92],[0.348,0.88],[0.355,0.93],[0.362,0.86],[0.369,0.8],[0.376,0.76],[0.384,0.7],[0.391,0.66],[0.399,0.6],[0.406,0.55],[0.413,0.5],[0.42,0.47],[0.428,0.46],[0.435,0.44],[0.442,0.41],[0.449,0.42],[0.458,0.44],[0.467,0.41],[0.476,0.44],[0.486,0.39],[0.495,0.41],[0.503,0.37],[0.513,0.41],[0.522,0.35],[0.531,0.33],[0.54,0.35],[0.549,0.3],[0.558,0.28],[0.567,0.22],[0.575,0.25],[0.583,0.19],[0.593,0.18],[0.604,0.145],[0.615,0.135],[0.625,0.125],[0.636,0.105],[0.647,0.095],[0.662,0.07],[0.676,0.055],[0.691,0.044],[0.709,0.028],[0.727,0.027],[0.749,0.016],[0.778,0.01],[0.807,0.006],[0.865,0.005],[1.0,0.003]];
const E_p50=[[0.316,1.446],[0.32,1.51],[0.326,1.69],[0.329,1.71],[0.331,1.4],[0.338,1.34],[0.345,1.29],[0.353,1.23],[0.36,1.29],[0.367,1.23],[0.375,1.17],[0.382,1.11],[0.389,1.11],[0.396,1.09],[0.404,1.06],[0.411,1.03],[0.418,1.06],[0.425,0.94],[0.433,1.0],[0.44,1.09],[0.444,0.91],[0.447,0.66],[0.452,0.54],[0.458,0.51],[0.465,0.49],[0.473,0.49],[0.48,0.46],[0.487,0.43],[0.495,0.46],[0.502,0.43],[0.509,0.47],[0.516,0.43],[0.524,0.43],[0.531,0.43],[0.538,0.4],[0.545,0.37],[0.553,0.34],[0.56,0.31],[0.567,0.29],[0.575,0.26],[0.582,0.29],[0.589,0.26],[0.604,0.2],[0.615,0.26],[0.625,0.17],[0.64,0.14],[0.655,0.11],[0.669,0.086],[0.684,0.07],[0.698,0.05],[0.72,0.04],[0.756,0.03],[0.793,0.017],[0.829,0.011],[0.902,0.006],[1.0,0.003]];
const E_y50=[[0.48,0.37],[0.484,0.31],[0.487,0.46],[0.493,0.86],[0.496,0.6],[0.5,0.51],[0.505,0.49],[0.513,0.46],[0.52,0.43],[0.527,0.46],[0.535,0.43],[0.542,0.4],[0.549,0.43],[0.556,0.51],[0.564,0.37],[0.571,0.34],[0.582,0.31],[0.593,0.26],[0.6,0.29],[0.607,0.2],[0.618,0.17],[0.629,0.14],[0.64,0.14],[0.651,0.11],[0.662,0.1],[0.673,0.086],[0.684,0.074],[0.695,0.057],[0.705,0.04],[0.72,0.029],[0.742,0.029],[0.764,0.04],[0.778,0.017],[0.793,0.029],[0.807,0.011],[0.865,0.006],[1.0,0.003]];
const E_o50=[[0.687,0.126],[0.695,0.086],[0.702,0.114],[0.707,0.31],[0.709,0.33],[0.711,0.086],[0.716,0.33],[0.72,0.086],[0.727,0.057],[0.738,0.04],[0.753,0.14],[0.76,0.04],[0.771,0.029],[0.785,0.029],[0.8,0.011],[0.865,0.006],[1.0,0.003]];
// Panel F: 2.0 PGA
const F_k90=[[0.002,2.37],[0.008,2.4],[0.015,2.34],[0.021,2.51],[0.029,2.74],[0.034,2.83],[0.041,2.91],[0.049,3.0],[0.055,3.14],[0.061,3.26],[0.067,3.4],[0.072,3.51],[0.077,3.6],[0.083,3.51],[0.09,3.43],[0.098,3.43],[0.106,3.46],[0.114,3.44],[0.122,3.49],[0.13,3.51],[0.139,3.57],[0.147,3.57],[0.155,3.49],[0.161,3.4],[0.17,3.34],[0.178,3.37],[0.186,3.37],[0.194,3.43],[0.202,3.46],[0.21,3.49],[0.218,3.49],[0.225,3.49],[0.23,3.97],[0.235,3.71],[0.24,3.8],[0.245,3.6],[0.249,3.77],[0.254,3.49],[0.259,3.6],[0.265,3.09],[0.271,3.37],[0.277,3.43],[0.284,3.31],[0.289,3.43],[0.295,3.2],[0.303,3.11],[0.311,3.06],[0.319,2.97],[0.328,2.86],[0.336,2.74],[0.344,2.66],[0.352,2.63],[0.36,2.66],[0.367,2.63],[0.375,2.57],[0.383,2.51],[0.391,2.46],[0.399,2.34],[0.406,2.37],[0.412,2.23],[0.417,2.37],[0.424,2.34],[0.43,2.4],[0.436,2.34],[0.442,2.43],[0.448,2.4],[0.455,2.06],[0.46,1.71],[0.465,2.4],[0.471,2.29],[0.478,2.23],[0.484,2.17],[0.491,2.2],[0.496,1.89],[0.501,2.2],[0.507,2.23],[0.513,2.17],[0.52,2.34],[0.526,2.17],[0.531,2.23],[0.538,2.31],[0.542,2.0],[0.546,1.51],[0.55,2.11],[0.554,2.06],[0.558,1.94],[0.562,1.49],[0.566,1.09],[0.571,1.26],[0.575,0.97],[0.579,1.03],[0.585,1.09],[0.591,0.91],[0.597,0.83],[0.603,0.91],[0.607,1.17],[0.611,0.86],[0.618,0.74],[0.623,1.03],[0.629,0.8],[0.636,0.69],[0.644,0.74],[0.652,0.74],[0.66,0.69],[0.668,0.67],[0.676,0.7],[0.683,0.74],[0.689,0.8],[0.693,0.74],[0.701,0.66],[0.709,0.63],[0.717,0.6],[0.725,0.63],[0.733,0.66],[0.742,0.69],[0.75,0.63],[0.758,0.69],[0.766,0.66],[0.774,0.6],[0.782,0.51],[0.789,0.46],[0.795,0.54],[0.8,0.46],[0.807,0.29],[0.815,0.26],[0.823,0.29],[0.831,0.23],[0.839,0.2],[0.848,0.22],[0.856,0.18],[0.868,0.17],[0.88,0.14],[0.892,0.13],[0.905,0.11],[0.917,0.086],[0.929,0.069],[0.945,0.057],[0.962,0.04],[0.978,0.029],[0.986,0.086],[0.994,0.029],[1.0,0.011]];
const F_g90=[[0.002,2.43],[0.008,2.34],[0.016,2.49],[0.024,2.74],[0.031,2.97],[0.037,3.03],[0.045,3.03],[0.053,3.14],[0.061,3.37],[0.067,3.54],[0.073,3.83],[0.08,4.11],[0.086,4.26],[0.091,3.77],[0.098,3.57],[0.104,3.71],[0.112,3.66],[0.121,3.71],[0.129,3.77],[0.137,3.83],[0.145,3.91],[0.153,3.94],[0.161,3.89],[0.17,3.8],[0.178,3.6],[0.186,3.49],[0.194,3.43],[0.202,3.49],[0.21,3.54],[0.218,3.57],[0.227,3.71],[0.232,3.63],[0.24,3.6],[0.249,3.71],[0.257,3.89],[0.265,4.06],[0.271,4.14],[0.277,4.11],[0.285,4.11],[0.292,3.94],[0.297,3.91],[0.303,3.83],[0.31,3.77],[0.316,3.6],[0.323,3.54],[0.329,3.34],[0.334,2.86],[0.338,3.37],[0.344,3.49],[0.35,3.26],[0.355,3.46],[0.36,2.8],[0.365,3.49],[0.371,3.37],[0.377,3.14],[0.383,3.09],[0.39,3.14],[0.396,3.09],[0.403,3.03],[0.412,3.09],[0.42,3.06],[0.428,2.97],[0.436,3.03],[0.442,2.66],[0.447,3.03],[0.452,3.26],[0.458,2.97],[0.465,3.09],[0.469,2.34],[0.474,2.34],[0.479,2.49],[0.485,2.23],[0.491,2.17],[0.497,2.11],[0.504,1.94],[0.509,1.91],[0.515,2.34],[0.52,2.51],[0.526,2.46],[0.531,2.23],[0.538,2.49],[0.544,2.4],[0.55,2.46],[0.556,2.49],[0.561,2.34],[0.566,1.2],[0.571,0.86],[0.575,1.03],[0.58,1.2],[0.587,1.14],[0.595,1.09],[0.601,0.97],[0.607,1.2],[0.613,1.03],[0.619,0.86],[0.628,0.91],[0.636,0.8],[0.644,0.74],[0.656,0.74],[0.668,0.69],[0.681,0.69],[0.693,0.74],[0.705,0.69],[0.717,0.66],[0.729,0.69],[0.742,0.69],[0.754,0.66],[0.766,0.63],[0.778,0.57],[0.791,0.49],[0.8,0.43],[0.808,0.29],[0.819,0.24],[0.831,0.2],[0.848,0.2],[0.864,0.16],[0.88,0.14],[0.896,0.11],[0.913,0.086],[0.929,0.069],[0.945,0.046],[0.962,0.034],[0.978,0.023],[0.986,0.11],[1.0,0.011]];
const F_p90=[[0.683,0.846],[0.689,0.74],[0.697,0.66],[0.705,0.63],[0.713,0.63],[0.721,0.66],[0.727,1.11],[0.733,0.66],[0.742,0.69],[0.75,0.63],[0.758,0.66],[0.766,0.63],[0.774,0.71],[0.782,0.85],[0.791,0.51],[0.8,0.46],[0.807,0.29],[0.815,0.34],[0.823,0.23],[0.831,0.29],[0.839,0.2],[0.848,0.23],[0.856,0.17],[0.868,0.2],[0.88,0.14],[0.896,0.11],[0.913,0.086],[0.937,0.057],[0.962,0.034],[1.0,0.011]];
const F_y90=[[0.8,0.571],[0.807,0.4],[0.815,0.4],[0.823,0.54],[0.831,0.53],[0.839,0.23],[0.846,0.4],[0.852,0.2],[0.857,0.4],[0.864,0.2],[0.87,0.43],[0.876,0.14],[0.884,0.14],[0.896,0.11],[0.913,0.086],[0.929,0.069],[0.953,0.046],[0.978,0.029],[1.0,0.011]];
const F_o90=[[0.923,0.16],[0.929,0.11],[0.937,0.14],[0.945,0.086],[0.958,0.057],[0.97,0.029],[0.982,0.057],[0.99,0.086],[1.0,0.011]];
const F_k50=[[0.002,0.69],[0.005,0.91],[0.01,1.2],[0.015,1.29],[0.02,1.26],[0.026,1.29],[0.033,1.37],[0.039,1.46],[0.046,1.49],[0.052,1.43],[0.057,1.34],[0.064,1.31],[0.07,1.26],[0.077,1.29],[0.083,1.31],[0.09,1.26],[0.096,1.29],[0.103,1.37],[0.109,1.4],[0.116,1.43],[0.122,1.46],[0.129,1.5],[0.135,1.54],[0.142,1.6],[0.148,1.65],[0.155,1.66],[0.161,1.63],[0.168,1.57],[0.174,1.51],[0.179,1.43],[0.184,1.46],[0.189,1.31],[0.194,1.23],[0.2,1.2],[0.208,1.23],[0.216,1.23],[0.224,1.26],[0.232,1.23],[0.24,1.26],[0.249,1.2],[0.257,1.17],[0.265,1.14],[0.273,1.11],[0.281,1.09],[0.289,1.03],[0.297,1.0],[0.306,0.97],[0.314,0.91],[0.322,0.87],[0.33,0.86],[0.338,0.8],[0.346,0.8],[0.355,0.74],[0.363,0.71],[0.371,0.69],[0.379,0.6],[0.387,0.54],[0.395,0.57],[0.403,0.66],[0.412,0.63],[0.42,0.6],[0.428,0.66],[0.436,0.69],[0.444,0.66],[0.452,0.63],[0.46,0.6],[0.469,0.57],[0.477,0.54],[0.485,0.46],[0.493,0.51],[0.501,0.43],[0.509,0.4],[0.518,0.37],[0.526,0.34],[0.534,0.31],[0.542,0.26],[0.55,0.23],[0.558,0.2],[0.566,0.17],[0.575,0.14],[0.583,0.17],[0.591,0.14],[0.599,0.11],[0.607,0.14],[0.615,0.11],[0.623,0.14],[0.632,0.13],[0.64,0.1],[0.652,0.11],[0.664,0.086],[0.676,0.069],[0.689,0.057],[0.701,0.046],[0.717,0.04],[0.733,0.029],[0.75,0.023],[0.774,0.017],[0.799,0.011],[0.831,0.006],[0.913,0.006],[1.0,0.006]];
const F_g50=[[0.002,0.72],[0.005,0.95],[0.01,1.22],[0.015,1.3],[0.02,1.28],[0.026,1.31],[0.033,1.4],[0.039,1.5],[0.046,1.51],[0.052,1.45],[0.057,1.36],[0.064,1.33],[0.07,1.3],[0.077,1.33],[0.083,1.36],[0.09,1.37],[0.096,1.33],[0.103,1.4],[0.109,1.43],[0.116,1.47],[0.122,1.5],[0.129,1.53],[0.135,1.57],[0.142,1.62],[0.148,1.67],[0.155,1.69],[0.161,1.65],[0.168,1.6],[0.174,1.56],[0.179,1.6],[0.184,1.52],[0.189,1.35],[0.194,1.26],[0.2,1.22],[0.208,1.25],[0.216,1.25],[0.224,1.27],[0.232,1.25],[0.24,1.27],[0.249,1.24],[0.257,1.22],[0.265,1.2],[0.273,1.18],[0.281,1.15],[0.289,1.1],[0.297,1.06],[0.306,1.03],[0.314,0.96],[0.322,0.9],[0.33,0.88],[0.338,0.86],[0.346,0.83],[0.355,0.78],[0.363,0.74],[0.371,0.7],[0.379,0.62],[0.387,0.55],[0.395,0.52],[0.403,0.6],[0.412,0.58],[0.42,0.56],[0.428,0.62],[0.436,0.66],[0.444,0.63],[0.452,0.6],[0.46,0.57],[0.469,0.53],[0.477,0.5],[0.485,0.44],[0.493,0.48],[0.501,0.41],[0.509,0.38],[0.518,0.35],[0.526,0.32],[0.534,0.29],[0.542,0.25],[0.55,0.22],[0.558,0.19],[0.566,0.16],[0.575,0.13],[0.583,0.15],[0.591,0.13],[0.599,0.1],[0.607,0.12],[0.615,0.1],[0.623,0.12],[0.632,0.11],[0.64,0.09],[0.652,0.1],[0.664,0.08],[0.676,0.065],[0.689,0.054],[0.701,0.044],[0.717,0.038],[0.733,0.028],[0.75,0.022],[0.774,0.016],[0.799,0.01],[0.831,0.006],[1.0,0.006]];
const F_p50=[[0.271,1.457],[0.277,1.43],[0.284,1.46],[0.289,1.34],[0.295,1.31],[0.302,1.26],[0.308,1.2],[0.314,1.26],[0.319,1.14],[0.326,1.2],[0.333,1.03],[0.338,1.14],[0.344,0.97],[0.35,1.2],[0.357,0.91],[0.363,1.37],[0.368,0.86],[0.375,1.2],[0.381,0.86],[0.387,1.14],[0.393,0.8],[0.399,0.97],[0.406,0.86],[0.412,1.03],[0.417,0.86],[0.424,0.91],[0.429,1.26],[0.434,0.74],[0.44,0.69],[0.448,0.63],[0.456,0.6],[0.465,0.57],[0.473,0.54],[0.481,0.49],[0.489,0.46],[0.497,0.43],[0.505,0.4],[0.518,0.37],[0.53,0.31],[0.542,0.29],[0.554,0.23],[0.566,0.2],[0.579,0.17],[0.591,0.14],[0.603,0.13],[0.615,0.11],[0.632,0.1],[0.652,0.086],[0.676,0.069],[0.701,0.046],[0.733,0.029],[0.774,0.017],[0.831,0.006],[1.0,0.006]];
const F_y50=[[0.5,0.56],[0.505,0.46],[0.513,0.43],[0.522,0.4],[0.53,0.37],[0.538,0.34],[0.546,0.31],[0.554,0.37],[0.562,0.29],[0.571,0.26],[0.579,0.2],[0.587,0.2],[0.595,0.2],[0.603,0.17],[0.611,0.14],[0.623,0.11],[0.636,0.1],[0.652,0.086],[0.668,0.074],[0.693,0.057],[0.717,0.04],[0.75,0.029],[0.799,0.017],[0.848,0.011],[1.0,0.006]];
const F_o50=[[0.628,0.143],[0.636,0.11],[0.644,0.086],[0.656,0.11],[0.668,0.074],[0.681,0.069],[0.693,0.057],[0.705,0.046],[0.717,0.04],[0.742,0.029],[0.774,0.023],[0.815,0.017],[0.856,0.017],[0.896,0.029],[0.929,0.034],[0.953,0.046],[0.97,0.057],[0.986,0.04],[1.0,0.011]];

// ---------------- LABELS / AXES ----------------
const scaleLabels=['0.5','0.5','1.0','1.0','2.0','2.0'];
const measureLabels=['PGV','PGA','PGV','PGA','PGV','PGA'];
const yMaxRow=[1.2,2.4,5.0];
const yStepRow=[0.3,0.4,1.0];
const xRange=[0,1.0], xStep=0.2;
const capLabels={u04:'0.4',u10:'1.0',u20:'2.0',u80:'8.0'};
const refLines=[['PGD',' = 30.46 cm'],['PGV',' = 77.78 cm/s'],['PGA',' = 0.44 g']];
const failKeys=[['o50','o90','y90'],['o50','o90','y90'],['o50','y50','o90','y90','p90'],['o50','y50','o90','y90','p90'],['o50','y50','p50','y90','p90'],['o50','y50','p50','o90','y90','p90']];

// ---------------- STYLE ----------------
const FONT='"Liberation Serif","DejaVu Serif",serif';
const TXT='#222222';
const BIG=30;
const COLORS={o:'#D95319',y:'#EDB120',p:'#7E2F8E',g:'#77AC30',k:'#000000'};
const GROUP={o:'u04',y:'u10',p:'u20',g:'u80',k:'ZSBE'};
const STAR='path://M0,-10L2.245,-3.09L9.511,-3.09L3.633,1.18L5.878,8.09L0,3.82L-5.878,8.09L-3.633,1.18L-9.511,-3.09L-2.245,-3.09Z';
const GL=[101,705], GW=[459,458], GT=[53,463,873], GH=292;
const RICH={
  it:{fontFamily:FONT,fontStyle:'italic',fontSize:BIG,lineHeight:34,color:TXT},
  sub:{fontFamily:FONT,fontStyle:'italic',fontSize:20,lineHeight:20,verticalAlign:'bottom',color:TXT},
  rm:{fontFamily:FONT,fontSize:BIG,lineHeight:34,color:TXT},
  sup:{fontFamily:FONT,fontSize:20,lineHeight:20,verticalAlign:'top',color:TXT}
};
const panelsData=[
  {p90:{o:A_o90,y:A_y90,p:A_p90,g:A_g90,k:A_k90},p50:{o:A_o50,y:A_y50,p:A_p50,g:A_g50,k:A_k50}},
  {p90:{o:B_o90,y:B_y90,p:B_p90,g:B_g90,k:B_k90},p50:{o:B_o50,y:B_y50,p:B_p50,g:B_g50,k:B_k50}},
  {p90:{o:C_o90,y:C_y90,p:C_p90,g:C_g90,k:C_k90},p50:{o:C_o50,y:C_y50,p:C_p50,g:C_g50,k:C_k50}},
  {p90:{o:D_o90,y:D_y90,p:D_p90,g:D_g90,k:D_k90},p50:{o:D_o50,y:D_y50,p:D_p50,g:D_g50,k:D_k50}},
  {p90:{o:E_o90,y:E_y90,p:E_p90,g:E_g90,k:E_k90},p50:{o:E_o50,y:E_y50,p:E_p50,g:E_g50,k:E_k50}},
  {p90:{o:F_o90,y:F_y90,p:F_p90,g:F_g90,k:F_k90},p50:{o:F_o50,y:F_y50,p:F_p50,g:F_g50,k:F_k50}}
];

const mctx=document.createElement('canvas').getContext('2d');
function textW(s,size){mctx.font=size+'px '+FONT;return mctx.measureText(s).width;}
const fmt=v=>v===0?'0':v.toFixed(1);

const grids=[],xAxes=[],yAxes=[],series=[],graphics=[];
panelsData.forEach((pn,i)=>{
  const r=Math.floor(i/2), c=i%2;
  grids.push({left:GL[c],top:GT[r],width:GW[c],height:GH,show:true,borderColor:'#262626',borderWidth:1,backgroundColor:'rgba(0,0,0,0)',containLabel:false,outerBoundsMode:'none'});
  xAxes.push({type:'value',gridIndex:i,min:xRange[0],max:xRange[1],interval:xStep,
    axisLine:{show:true,onZero:false,lineStyle:{color:'#262626',width:1}},
    axisTick:{show:true,inside:true,length:5,lineStyle:{color:'#262626'}},
    axisLabel:{margin:15,fontSize:27,fontFamily:FONT,color:TXT,formatter:fmt},
    splitLine:{show:true,showMinLine:false,showMaxLine:false,lineStyle:{color:'#bdbdbd',type:[7,5],width:1}},
    name:r===2?'{it|f}{sub|up}{rm|/ (}{it|mg}{rm|)}':'',nameLocation:'middle',nameGap:51,
    nameTextStyle:{fontFamily:FONT,fontSize:BIG,color:TXT,rich:RICH}});
  yAxes.push({type:'value',gridIndex:i,min:0,max:yMaxRow[r],interval:yStepRow[r],
    axisLine:{show:true,onZero:false,lineStyle:{color:'#262626',width:1}},
    axisTick:{show:true,inside:true,length:5,lineStyle:{color:'#262626'}},
    axisLabel:{margin:12,fontSize:27,fontFamily:FONT,color:TXT,formatter:fmt},
    splitLine:{show:true,showMinLine:false,showMaxLine:false,lineStyle:{color:'#bdbdbd',type:[7,5],width:1}},
    name:c===0?'{it|u}{sub|max}{rm|  (m)}':'',nameLocation:'middle',nameRotate:90,nameGap:54,
    nameTextStyle:{fontFamily:FONT,fontSize:BIG,color:TXT,rich:RICH}});
  ['p90','p50'].forEach(kind=>{
    ['o','y','p','g','k'].forEach(k=>{
      const d=pn[kind][k];
      if(!d) return;
      series.push({type:'line',name:GROUP[k],xAxisIndex:i,yAxisIndex:i,data:d,color:COLORS[k],
        symbol:'none',showSymbol:false,silent:true,animation:false,clip:true,
        lineStyle:{width:kind==='p50'?3:1.3,color:COLORS[k],join:'round'},z:2});
    });
  });
  const stars=failKeys[i].map(key=>{
    const k=key[0], kind='p'+key.slice(1);
    return {value:pn[kind][k][0],itemStyle:{color:COLORS[k]}};
  });
  series.push({type:'scatter',xAxisIndex:i,yAxisIndex:i,data:stars,symbol:STAR,symbolSize:21,symbolKeepAspect:true,
    itemStyle:{borderColor:'#000',borderWidth:1,opacity:1},silent:true,animation:false,z:5});
  // title with overline
  const cx=GL[c]+GW[c]/2;
  const pre='Normalized to '+scaleLabels[i]+' ';
  const wPre=textW(pre,BIG), wM=textW(measureLabels[i],BIG);
  const x0=cx-(wPre+wM)/2, ty=GT[r]-20;
  graphics.push({type:'text',x:x0,y:ty,silent:true,style:{text:pre+measureLabels[i],font:BIG+'px '+FONT,fill:TXT,textAlign:'left',textVerticalAlign:'middle',align:'left',verticalAlign:'middle'}});
  graphics.push({type:'line',silent:true,shape:{x1:x0+wPre,y1:ty-18,x2:x0+wPre+wM,y2:ty-18},style:{stroke:TXT,lineWidth:1.5}});
});

// dummy series for the marker/line-type legend
series.push({type:'scatter',name:'Failure',xAxisIndex:0,yAxisIndex:0,data:[],symbol:STAR,color:'#000'});
series.push({type:'line',name:'Median',xAxisIndex:0,yAxisIndex:0,data:[],symbol:'none',color:'#000',lineStyle:{width:4}});
series.push({type:'line',name:'90th',xAxisIndex:0,yAxisIndex:0,data:[],symbol:'none',color:'#333',lineStyle:{width:1.5}});

const LTHIN='path://M0,0H52V1.6H0Z', LTHICK='path://M0,0H52V4H0Z';
function legendFmt(name){
  if(capLabels[name]) return '{it|u}{sub|cap}{rm| = '+capLabels[name]+' m}';
  if(name==='90th') return '{rm|90}{sup|th}{rm| percentile}';
  return '{rm|'+name+'}';
}
const legendText={fontFamily:FONT,fontSize:BIG,color:TXT,lineHeight:34,rich:RICH};
const legends=[
  {left:93,top:1278,orient:'vertical',padding:0,itemWidth:52,itemHeight:14,itemGap:0.5,selectedMode:false,formatter:legendFmt,textStyle:legendText,
   data:['u04','u10','u20'].map((n,j)=>({name:n,icon:LTHIN,itemStyle:{color:[COLORS.o,COLORS.y,COLORS.p][j],borderWidth:0}}))},
  {left:343,top:1278,orient:'vertical',padding:0,itemWidth:52,itemHeight:14,itemGap:0.5,selectedMode:false,formatter:legendFmt,textStyle:legendText,
   data:[{name:'u80',icon:LTHIN,itemStyle:{color:COLORS.g,borderWidth:0}},{name:'ZSBE',icon:LTHIN,itemStyle:{color:'#333',borderWidth:0}}]},
  {left:612,top:1278,orient:'vertical',padding:0,itemWidth:52,itemHeight:20,itemGap:0.5,selectedMode:false,formatter:legendFmt,textStyle:legendText,
   data:[{name:'Failure',icon:STAR,itemStyle:{color:'#000',borderWidth:0}},{name:'Median',icon:LTHICK,itemStyle:{color:'#000',borderWidth:0}},{name:'90th',icon:LTHIN,itemStyle:{color:'#333',borderWidth:0}}]}
];

// legend frames
graphics.push({type:'rect',silent:true,shape:{x:81,y:1272,width:482,height:160},style:{fill:'none',stroke:'#444',lineWidth:1.5}});
graphics.push({type:'rect',silent:true,shape:{x:598,y:1272,width:268,height:160},style:{fill:'none',stroke:'#444',lineWidth:1.5}});
// reference values block
refLines.forEach((ln,j)=>{
  const y=1296+j*34.5, x=903;
  const w=textW(ln[0],BIG);
  graphics.push({type:'text',x:x,y:y,silent:true,style:{text:ln[0]+ln[1],font:BIG+'px '+FONT,fill:TXT,textAlign:'left',textVerticalAlign:'middle',align:'left',verticalAlign:'middle'}});
  graphics.push({type:'line',silent:true,shape:{x1:x,y1:y-16,x2:x+w,y2:y-16},style:{stroke:TXT,lineWidth:1.5}});
});

const chart=echarts.init(document.getElementById('c'),null,{renderer:'canvas',width:1186,height:1383});
chart.setOption({animation:false,backgroundColor:'#ffffff',grid:grids,xAxis:xAxes,yAxis:yAxes,series:series,legend:legends,graphic:{elements:graphics}});
</script></body></html>
